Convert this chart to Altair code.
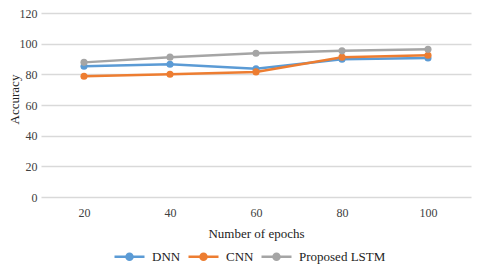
import altair as alt
import pandas as pd

epochs = ["20", "40", "60", "80", "100"]
dnn = [85.3, 86.6, 83.6, 89.9, 90.7]
cnn = [78.8, 80.0, 81.6, 91.2, 92.5]
lstm = [87.8, 91.2, 93.8, 95.3, 96.3]
series = ["DNN", "CNN", "Proposed LSTM"]
colors = ["#5B9BD5", "#ED7D31", "#A5A5A5"]
y_ticks = [0, 20, 40, 60, 80, 100, 120]

rows = []
for name, vals in zip(series, [dnn, cnn, lstm]):
    for e, v in zip(epochs, vals):
        rows.append({"epoch": e, "acc": v, "model": name})
df = pd.DataFrame(rows)

FONT = "Liberation Serif"
sym = ("M-1,0L1,0"
       "M-0.2,0A0.2,0.2,0,1,1,0.2,0A0.2,0.2,0,1,1,-0.2,0Z"
       "M-0.12,0A0.12,0.12,0,1,1,0.12,0A0.12,0.12,0,1,1,-0.12,0Z"
       "M-0.05,0A0.05,0.05,0,1,1,0.05,0A0.05,0.05,0,1,1,-0.05,0Z")

x = alt.X("epoch:N", sort=epochs,
          axis=alt.Axis(title="Number of epochs", labelAngle=0, domain=False, ticks=False,
                        grid=False, labelPadding=10, titlePadding=9,
                        labelFontSize=12, titleFontSize=13, labelColor="#404040",
                        titleColor="#222222", labelFont=FONT, titleFont=FONT,
                        titleFontWeight="normal"))
y = alt.Y("acc:Q", scale=alt.Scale(domain=[0, 120], nice=False),
          axis=alt.Axis(title="Accuracy", values=y_ticks, domain=False, ticks=False,
                        gridColor="#d9d9d9", gridWidth=1.5, labelPadding=4,
                        titleX=-27, titleY=86, titleBaseline="middle",
                        labelFontSize=12, titleFontSize=13,
                        labelColor="#404040", titleColor="#222222",
                        labelFont=FONT, titleFont=FONT, titleFontWeight="normal"))
color = alt.Color("model:N", sort=series,
                  scale=alt.Scale(domain=series, range=colors),
                  legend=alt.Legend(title=None, orient="none", direction="horizontal",
                                    legendX=72, legendY=227, symbolType=sym,
                                    symbolSize=900, symbolStrokeWidth=2.5,
                                    labelFont=FONT, labelFontSize=13,
                                    labelColor="#222222", columnPadding=2,
                                    labelOffset=6))

chart = alt.Chart(df).mark_line(
    strokeWidth=2.5,
    point=alt.OverlayMarkDef(filled=True, size=50, opacity=1),
).encode(x=x, y=y, color=color).properties(
    width=430, height=184,
    autosize=alt.AutoSizeParams(type="none"),
    padding={"left": 33, "top": 5, "right": 1, "bottom": 67},
).configure_view(stroke=None).configure_scale(bandPaddingInner=0, bandPaddingOuter=0)

chart.save("out.html", embed_options={"renderer": "svg", "actions": False})
